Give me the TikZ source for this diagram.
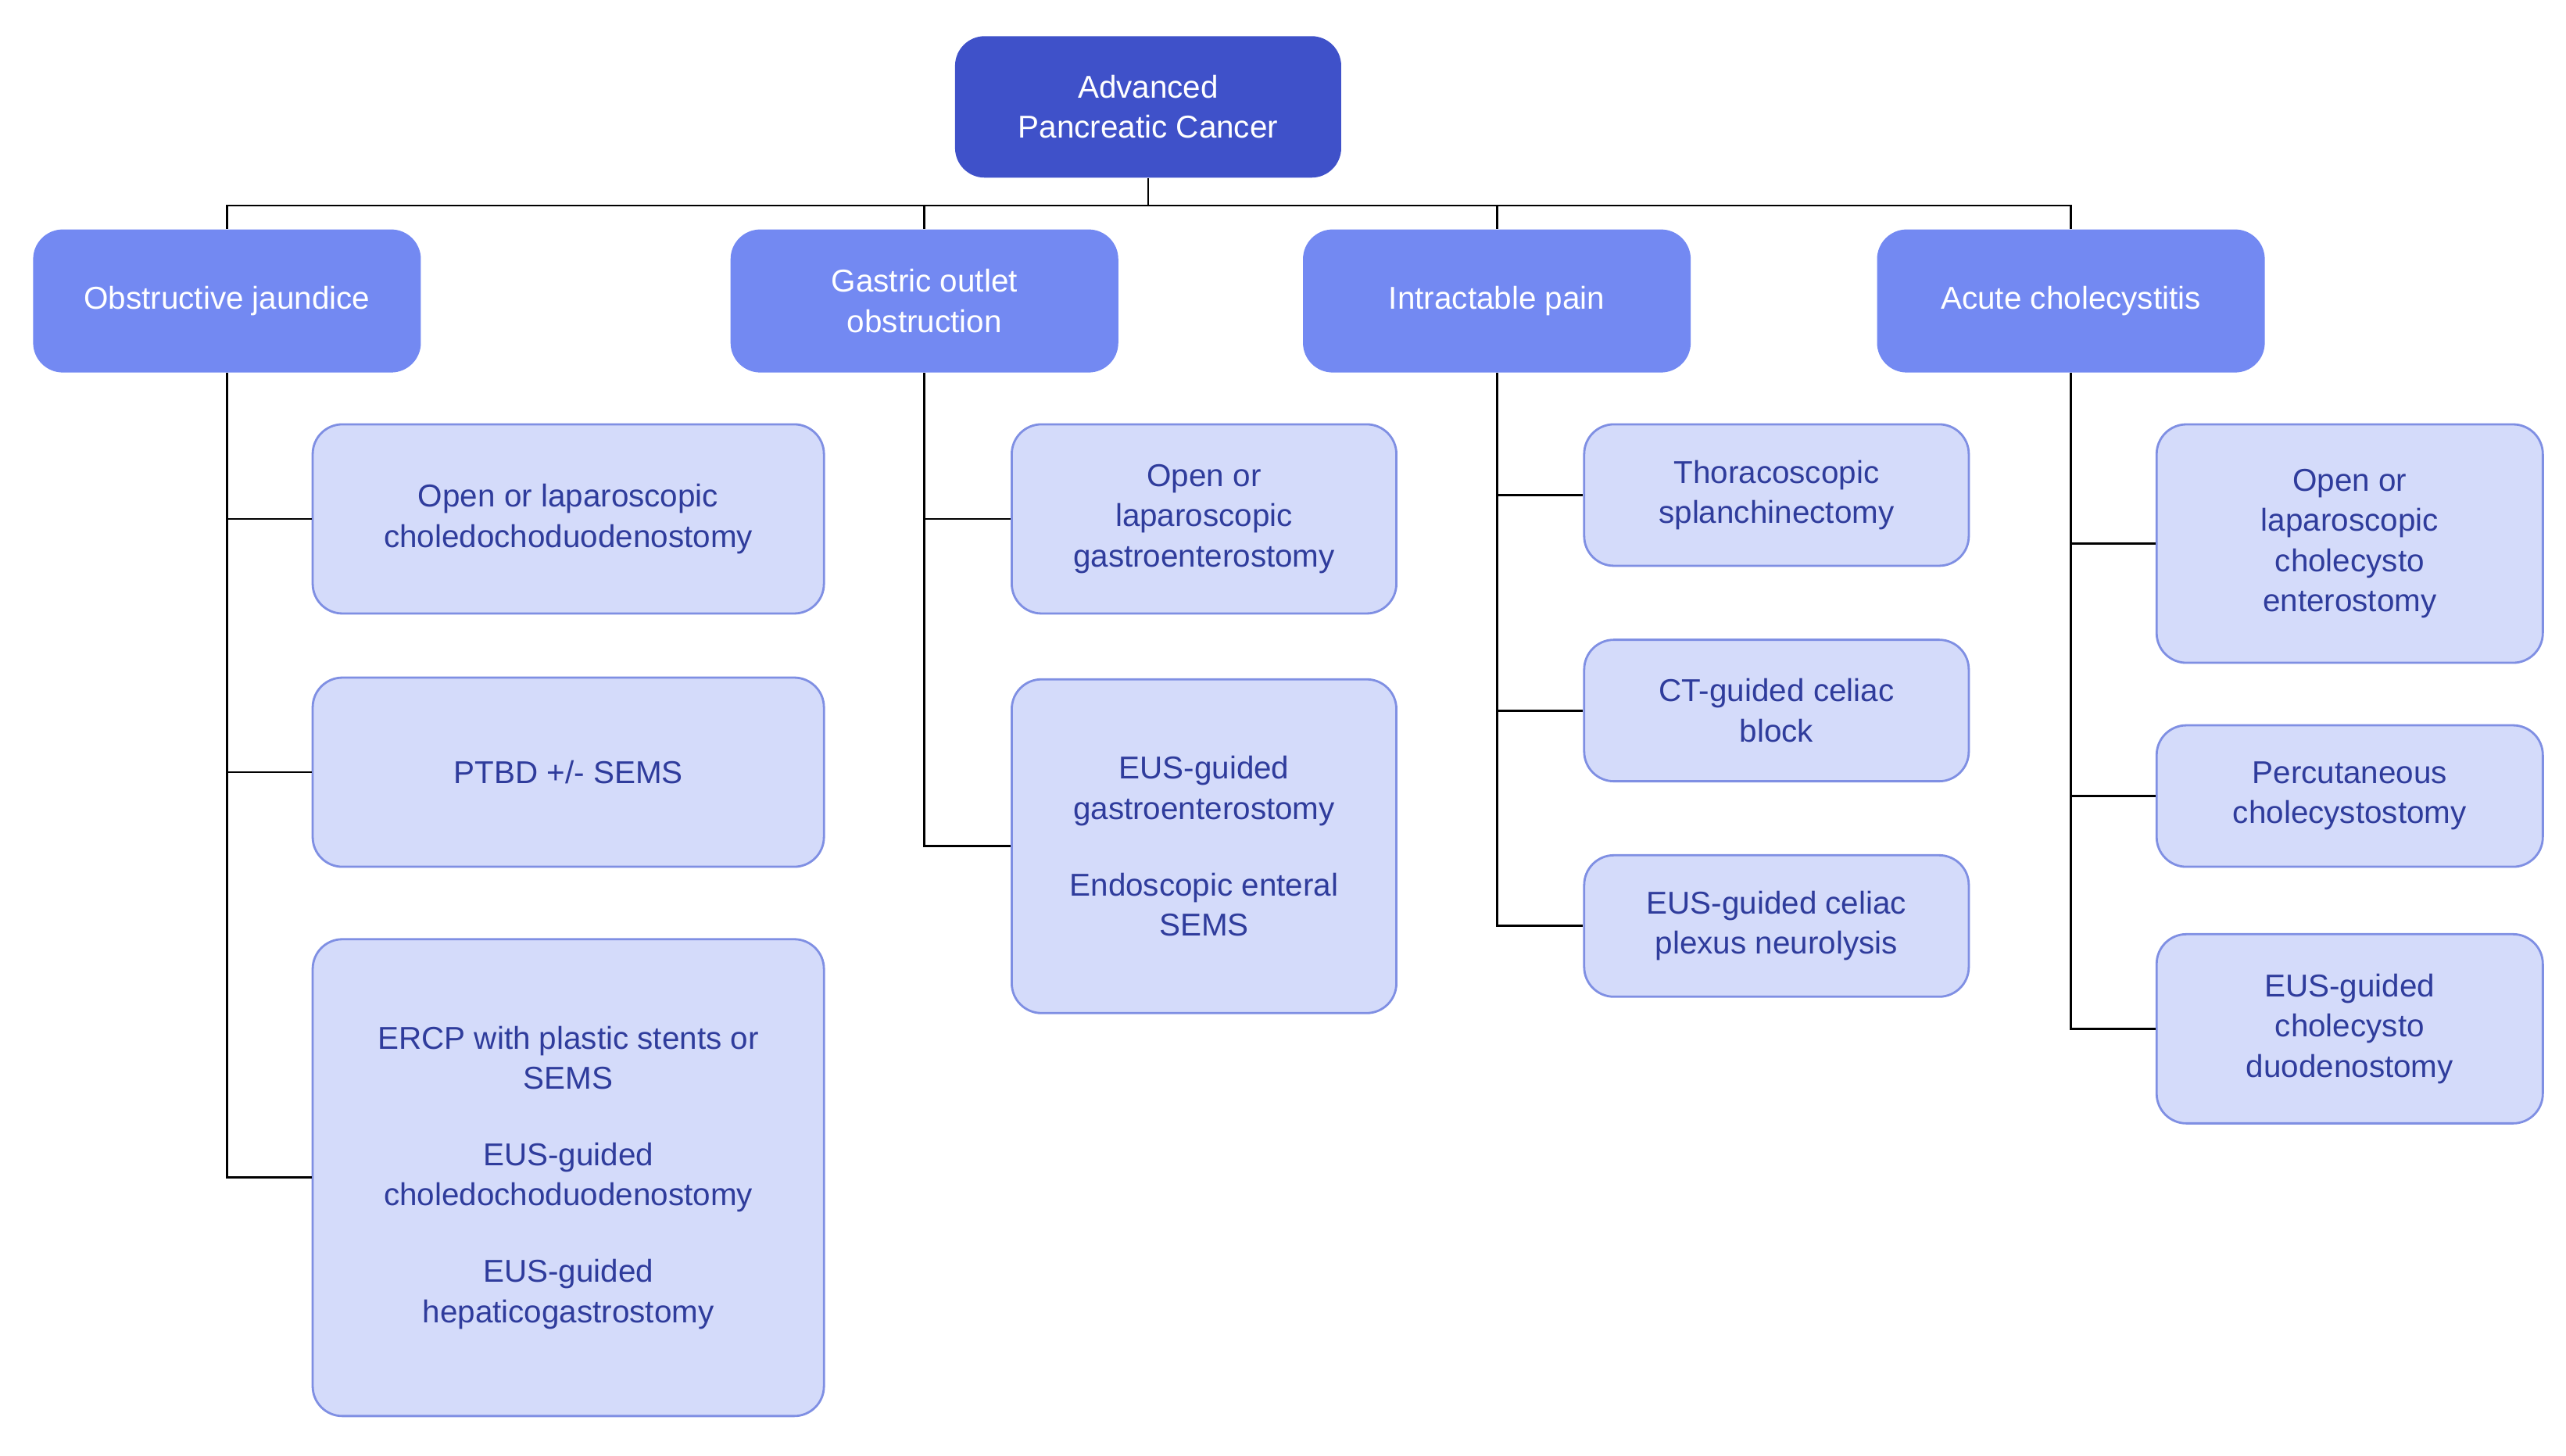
\documentclass[tikz,border=0pt]{standalone}
\usepackage{fontspec}
\setmainfont{Liberation Sans}
\usetikzlibrary{positioning}
\definecolor{rootblue}{HTML}{3F51C9}
\definecolor{midblue}{HTML}{7389F2}
\definecolor{leafblue}{HTML}{D4DBFA}
\definecolor{leafline}{HTML}{7F8FE3}
\definecolor{leaftext}{HTML}{2F3C9C}
\tikzset{
    box/.style={rectangle, rounded corners=0.38cm, align=center, inner sep=0pt,
        font=\fontsize{11.5}{14.6}\selectfont},
    root/.style={box, fill=rootblue, text=white, minimum width=4.94cm, minimum height=1.81cm},
    problem/.style={box, fill=midblue, text=white, minimum width=4.96cm, minimum height=1.83cm},
    option/.style={box, fill=leafblue, draw=leafline, thick, text=leaftext},
    link/.style={black, thick}
}
\begin{document}
\begin{tikzpicture}[x=0.02104cm,y=-0.02104cm]
    \useasboundingbox (0,0) rectangle (1560,885);
    \node[root] (apc) at (698,65) {Advanced\\Pancreatic Cancer};
    \coordinate (bus) at (0,125);
    \node[problem] (oj) at (138,183) {Obstructive jaundice};
    \node[problem] (goo) at (562,183) {Gastric outlet\\obstruction};
    \node[problem] (pain) at (910,183) {Intractable pain};
    \node[problem] (ac) at (1259,183) {Acute cholecystitis};
    % obstructive jaundice
    \node[option, minimum width=6.54cm, minimum height=2.42cm] (oj1) at (345.5,315.5) {Open or laparoscopic\\choledochoduodenostomy};
    \node[option, minimum width=6.54cm, minimum height=2.42cm] (oj2) at (345.5,469.5) {PTBD +/- SEMS};
    \node[option, minimum width=6.54cm, minimum height=6.1cm] (oj3) at (345.5,716) {ERCP with plastic stents or\\SEMS\\[1.15em]EUS-guided\\choledochoduodenostomy\\[1.15em]EUS-guided\\hepaticogastrostomy};
    % gastric outlet obstruction
    \node[option, minimum width=4.92cm, minimum height=2.42cm] (goo1) at (732,315.5) {Open or\\laparoscopic\\gastroenterostomy};
    \node[option, minimum width=4.92cm, minimum height=4.27cm] (goo2) at (732,514.5) {EUS-guided\\gastroenterostomy\\[1.15em]Endoscopic enteral\\SEMS};
    % intractable pain
    \node[option, minimum width=4.92cm, minimum height=1.81cm] (pain1) at (1080,301) {Thoracoscopic\\splanchinectomy};
    \node[option, minimum width=4.92cm, minimum height=1.81cm] (pain2) at (1080,432) {CT-guided celiac\\block};
    \node[option, minimum width=4.92cm, minimum height=1.81cm] (pain3) at (1080,563) {EUS-guided celiac\\plexus neurolysis};
    % acute cholecystitis
    \node[option, minimum width=4.94cm, minimum height=3.05cm] (ac1) at (1428.5,330.5) {Open or\\laparoscopic\\cholecysto\\enterostomy};
    \node[option, minimum width=4.94cm, minimum height=1.81cm] (ac2) at (1428.5,484) {Percutaneous\\cholecystostomy};
    \node[option, minimum width=4.94cm, minimum height=2.42cm] (ac3) at (1428.5,625.5) {EUS-guided\\cholecysto\\duodenostomy};
    % connectors
    \draw[link] (apc.south) -- (apc.south |- bus);
    \foreach \p in {oj,goo,pain,ac}
        \draw[link] (apc.south |- bus) -| (\p.north);
    \foreach \p/\c in {oj/oj1,oj/oj2,oj/oj3,goo/goo1,goo/goo2,pain/pain1,pain/pain2,pain/pain3,ac/ac1,ac/ac2,ac/ac3}
        \draw[link] (\p.south) |- (\c.west);
\end{tikzpicture}
\end{document}
